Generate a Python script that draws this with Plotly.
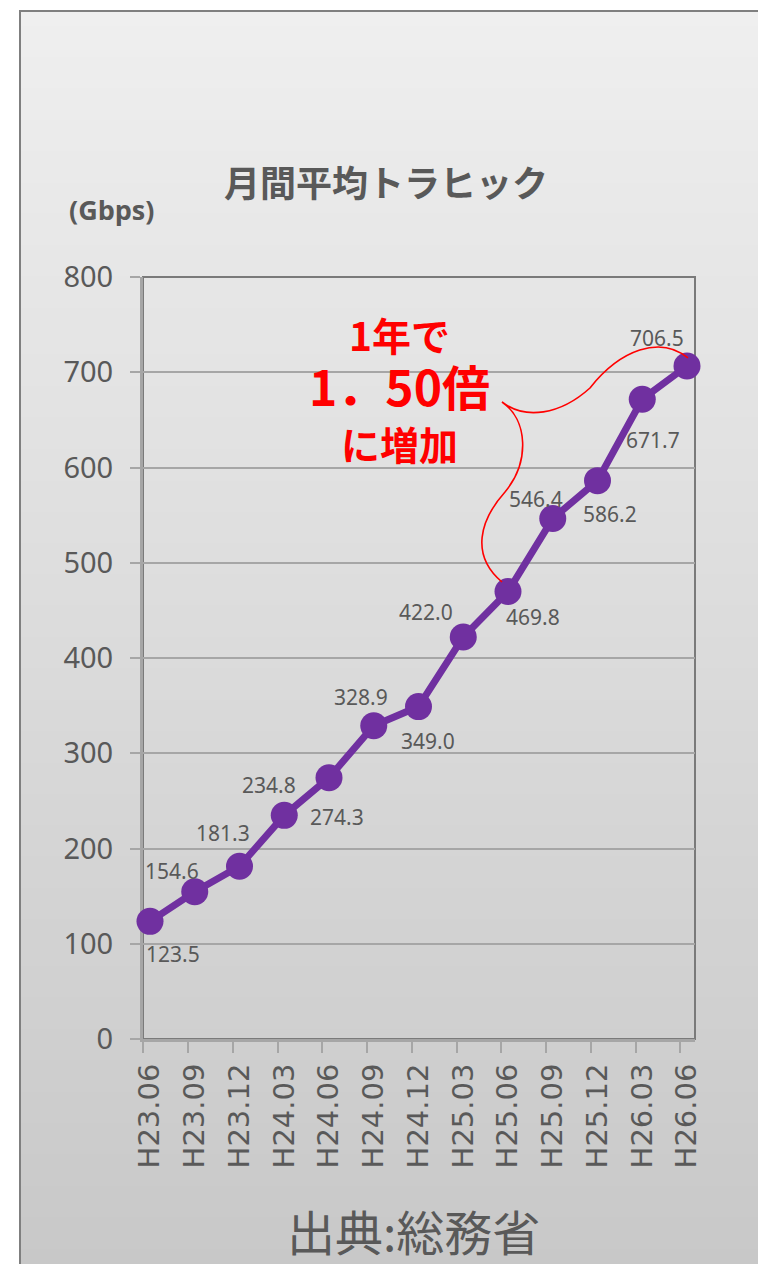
import plotly.graph_objects as go

# Quarterly monthly-average traffic (Gbps)
periods = ["H23.06", "H23.09", "H23.12", "H24.03", "H24.06", "H24.09", "H24.12",
           "H25.03", "H25.06", "H25.09", "H25.12", "H26.03", "H26.06"]
traffic = [123.5, 154.6, 181.3, 234.8, 274.3, 328.9, 349.0,
           422.0, 469.8, 546.4, 586.2, 671.7, 706.5]

# value-label offsets in pixels (dx, dy up)
label_shift = [(23, -33), (-23, 21), (-17, 33), (-15, 30), (8, -39), (-13, 29), (9, -34),
               (-37, 25), (25, -25), (-17, 20), (12, -33), (11, -41), (-30, 28)]

W, H = 758, 1264
L, R, T, B = 143, 695, 277, 1039       # plot area in pixels
GRAY_TEXT = "#595959"
PURPLE = "#7030A0"


def px_x(px):
    return (px - L) / (R - L)


def px_y(py):
    return (B - py) / (B - T)


x_idx = list(range(len(periods)))

fig = go.Figure()
fig.add_trace(go.Scatter(
    x=x_idx, y=traffic, mode="lines+markers",
    line=dict(color=PURPLE, width=7),
    marker=dict(color=PURPLE, size=27),
    cliponaxis=False, hoverinfo="skip", showlegend=False,
))

shapes = []
# soft vertical gradient of the chart frame
top_px, bot_px = 10, H
n_bands = 80
for k in range(n_bands):
    y0 = top_px + (bot_px - top_px) * k / n_bands
    y1 = top_px + (bot_px - top_px) * (k + 1) / n_bands + 1
    g = round(239 - 39 * (k + 0.5) / n_bands)
    shapes.append(dict(type="rect", xref="paper", yref="paper", layer="below",
                       x0=px_x(20), x1=px_x(W + 10), y0=px_y(y1), y1=px_y(y0),
                       fillcolor=f"rgb({g},{g},{g})", line=dict(width=0)))
# outer frame
shapes.append(dict(type="rect", xref="paper", yref="paper", layer="below",
                   x0=px_x(20), x1=px_x(W + 20), y0=px_y(H + 20), y1=px_y(11),
                   line=dict(color="#7f7f7f", width=2), fillcolor="rgba(0,0,0,0)"))
# plot-area border
shapes.append(dict(type="rect", xref="paper", yref="paper", layer="between",
                   x0=0, x1=1, y0=0, y1=1,
                   line=dict(color="#7a7a7a", width=2), fillcolor="rgba(0,0,0,0)"))

# red callout curve linking H25.06 to H26.06
x_a, y_a = x_idx[8], traffic[8]
x_b, y_b = x_idx[12], traffic[12]
tip = (7.866, 668.8)
path = (f"M {x_a - 0.134},{y_a + 10} "
        f"C 7.151,508.1 7.374,544.9 7.933,574.3 "
        f"C 8.492,605.8 8.447,649.9 {tip[0]},{tip[1]} "
        f"C 8.380,649.9 9.162,655.1 9.832,683.5 "
        f"C 10.503,723.4 11.397,739.1 {x_b + 0.022},{y_b + 8.5}")
shapes.append(dict(type="path", xref="x", yref="y", path=path, layer="above",
                   line=dict(color="#ff0000", width=1.6)))

annotations = []
for i, (v, (dx, dy)) in enumerate(zip(traffic, label_shift)):
    annotations.append(dict(x=x_idx[i], y=v, xref="x", yref="y", text=f"{v:.1f}",
                            showarrow=False, xshift=dx, yshift=dy,
                            xanchor="center", yanchor="middle",
                            font=dict(family="Noto Sans", size=21, color=GRAY_TEXT)))


def note(px, py, text, size, color, family="Noto Sans CJK JP"):
    return dict(x=px_x(px), y=px_y(py), xref="paper", yref="paper", text=text,
                showarrow=False, xanchor="center", yanchor="middle",
                font=dict(family=family, size=size, color=color))


growth_text = ("<b><span style='font-size:39px'>1年で</span><br>"
               "<span style='font-size:48px'>1．50倍</span><br>"
               "<span style='font-size:39px'>に増加</span></b>")

annotations += [
    note(386, 181, "<b>月間平均トラヒック</b>", 36, GRAY_TEXT),
    note(111, 209, "<b>(Gbps)</b>", 27, GRAY_TEXT, family="Open Sans"),
    note(399, 388, growth_text, 42, "#ff0000"),
    note(413, 1230, "出典:総務省", 48, GRAY_TEXT),
]

fig.update_layout(
    width=W, height=H,
    margin=dict(l=L, r=W - R, t=T, b=H - B, pad=0),
    paper_bgcolor="white", plot_bgcolor="rgba(0,0,0,0)",
    shapes=shapes, annotations=annotations, showlegend=False,
)

px_per_unit = (687 - 150) / 12
fig.update_xaxes(
    range=[-(150 - L) / px_per_unit, 12 + (R - 687) / px_per_unit],
    tickmode="array", tickvals=x_idx, ticktext=periods, tickangle=-90,
    ticks="", showgrid=False, zeroline=False,
    showline=True, linecolor="#a6a6a6", linewidth=3, layer="below traces",
    tickfont=dict(family="DejaVu Sans", size=29, color=GRAY_TEXT),
    ticklabelstandoff=10,
    minor=dict(ticks="outside", tickmode="linear", tick0=-0.15, dtick=1,
               ticklen=11, tickwidth=2, tickcolor="#a6a6a6"),
)
fig.update_yaxes(
    range=[0, 800], tickmode="linear", tick0=0, dtick=100,
    ticks="outside", ticklen=10, tickwidth=2, tickcolor="#a6a6a6",
    showgrid=True, gridcolor="#a6a6a6", gridwidth=2, zeroline=False,
    showline=True, linecolor="#a6a6a6", linewidth=3, layer="below traces",
    tickfont=dict(family="Noto Sans", size=29, color=GRAY_TEXT),
    ticklabelstandoff=11,
)

fig.write_html("out.html")
